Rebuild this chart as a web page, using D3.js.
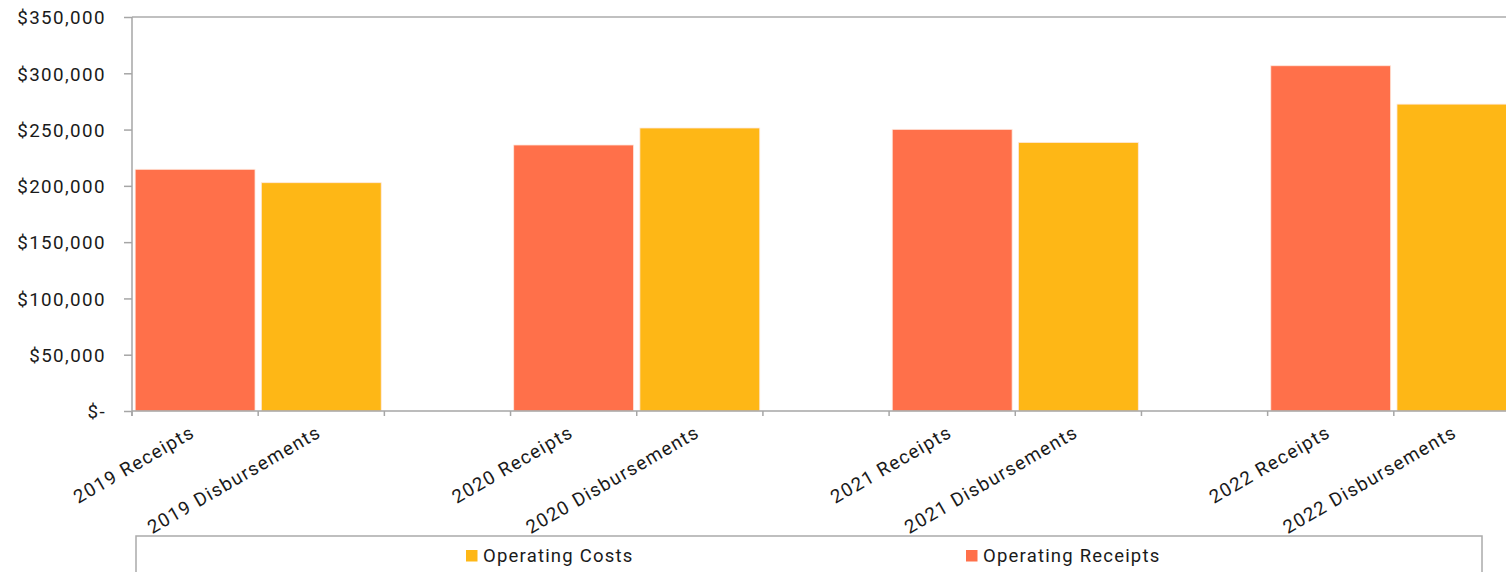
<!DOCTYPE html>
<html>
<head>
<meta charset="utf-8">
<script src="https://cdn.jsdelivr.net/npm/d3@7"></script>
<style>
  html, body { margin: 0; padding: 0; background: #ffffff; overflow: hidden; }
  svg { display: block; }
  text { font-family: Roboto, "Noto Sans", sans-serif; fill: #1a1a1a; }
</style>
</head>
<body>
<svg id="chart" width="1506" height="572"></svg>
<script>
// ---- data ----
const categories = ["2019 Receipts", "2019 Disbursements", "gap1",
                    "2020 Receipts", "2020 Disbursements", "gap2",
                    "2021 Receipts", "2021 Disbursements", "gap3",
                    "2022 Receipts", "2022 Disbursements"];
const categoryLabels = ["2019 Receipts", "2019 Disbursements", "",
                        "2020 Receipts", "2020 Disbursements", "",
                        "2021 Receipts", "2021 Disbursements", "",
                        "2022 Receipts", "2022 Disbursements"];
const operatingReceipts = [214700, 0, 0, 236300, 0, 0, 250200, 0, 0, 306700, 0];
const operatingCosts    = [0, 202800, 0, 0, 251400, 0, 0, 238600, 0, 0, 272600];
const seriesNames = ["Operating Costs", "Operating Receipts"];
const yTicks = [0, 50000, 100000, 150000, 200000, 250000, 300000, 350000];
const yTickLabels = ["$-", "$50,000", "$100,000", "$150,000", "$200,000", "$250,000", "$300,000", "$350,000"];

// ---- layout ----
const colors = { "Operating Costs": "#FEB716", "Operating Receipts": "#FF704A" };
const plotLeft = 132, plotTop = 17, plotBottom = 411, plotRight = 1520;
const svg = d3.select("#chart");

const x = d3.scaleBand().domain(categories).range([plotLeft, plotRight]).paddingInner(0).paddingOuter(0);
const y = d3.scaleLinear().domain([0, 350000]).range([plotBottom, plotTop]);

const rows = categories.map((c, i) => ({
  cat: c,
  "Operating Costs": operatingCosts[i],
  "Operating Receipts": operatingReceipts[i]
}));
const stack = d3.stack().keys(["Operating Receipts", "Operating Costs"])(rows);

// top border
svg.append("line")
  .attr("x1", plotLeft).attr("x2", 1506)
  .attr("y1", y(350000)).attr("y2", y(350000))
  .attr("stroke", "#ababab").attr("stroke-width", 1.5);

// bars
const bw = x.bandwidth();
const barW = bw * 0.95;
stack.forEach(s => {
  svg.append("g").selectAll("rect")
    .data(s.filter(d => d[1] - d[0] > 0))
    .join("rect")
    .attr("x", d => x(d.data.cat) + (bw - barW) / 2)
    .attr("width", barW)
    .attr("y", d => y(d[1]))
    .attr("height", d => y(d[0]) - y(d[1]))
    .attr("fill", colors[s.key])
    .attr("stroke", "#ffe9de")
    .attr("stroke-width", 0.8);
});

// y axis
const yAxis = d3.axisLeft(y).tickValues(yTicks)
  .tickFormat((d, i) => yTickLabels[i]).tickSize(8).tickPadding(0);
const gy = svg.append("g").attr("transform", `translate(${plotLeft},0)`).call(yAxis);
gy.select(".domain").attr("stroke", "#a6a6a6").attr("stroke-width", 1.5)
  .attr("d", `M0,${plotTop}V${plotBottom + 5}`);
gy.selectAll(".tick line").attr("stroke", "#a6a6a6").attr("stroke-width", 1.5);
gy.selectAll(".tick text")
  .attr("x", -26).attr("dy", "0.36em")
  .style("font-size", "18.8px").style("letter-spacing", "1.4px")
  .attr("fill", "#1a1a1a");

// x axis: ticks at band boundaries
const boundaries = categories.map(c => x(c)).concat([plotRight]);
const gx = svg.append("g");
gx.append("line").attr("x1", plotLeft).attr("x2", 1506).attr("y1", plotBottom).attr("y2", plotBottom)
  .attr("stroke", "#a6a6a6").attr("stroke-width", 1.5);
gx.selectAll("line.tk").data(boundaries).join("line").attr("class", "tk")
  .attr("x1", d => d).attr("x2", d => d).attr("y1", plotBottom).attr("y2", plotBottom + 5)
  .attr("stroke", "#a6a6a6").attr("stroke-width", 1.5);
gx.selectAll("text").data(categories.map((c, i) => ({ c, label: categoryLabels[i] })).filter(d => d.label))
  .join("text")
  .attr("transform", d => `translate(${x(d.c) + bw / 2 + 1},${plotBottom + 25}) rotate(-30)`)
  .attr("text-anchor", "end")
  .style("font-size", "18.8px").style("letter-spacing", "1.3px")
  .text(d => d.label);

// legend
const lg = svg.append("g");
lg.append("rect").attr("x", 136).attr("y", 536).attr("width", 1346).attr("height", 60)
  .attr("fill", "none").attr("stroke", "#ababab").attr("stroke-width", 1.5);
const legendX = { "Operating Costs": 466, "Operating Receipts": 966 };
seriesNames.forEach(n => {
  lg.append("rect").attr("x", legendX[n]).attr("y", 550).attr("width", 11.5).attr("height", 11.5)
    .attr("fill", colors[n]);
  lg.append("text").attr("x", legendX[n] + 17).attr("y", 562)
    .style("font-size", "18.5px").style("letter-spacing", "1.2px")
    .text(n);
});
</script>
</body>
</html>
